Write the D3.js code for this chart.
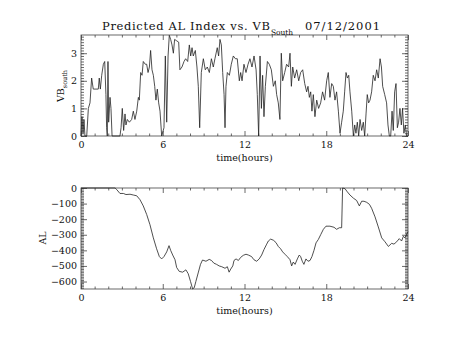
<!DOCTYPE html>
<html><head><meta charset="utf-8">
<script src="https://cdn.jsdelivr.net/npm/d3@7"></script>
<style>body{margin:0;background:#fff}svg{display:block}</style></head>
<body><svg id="c" width="454" height="341"></svg>
<script>
// ---- data (hours, value) ----
const vbSouth = [[0,0],[0.07,0.7],[0.15,0.1],[0.22,0.6],[0.29,0],[0.42,0],[0.54,1.0],[0.66,1.2],[0.78,2.1],[0.9,1.7],[1.1,1.7],[1.27,1.7],[1.34,2.1],[1.42,1.7],[1.52,2.2],[1.64,2.6],[1.74,2.7],[1.83,1.5],[1.88,0.3],[1.93,0],[1.98,2.7],[2.03,0.5],[2.13,1.4],[2.2,1.0],[2.28,0],[2.86,0],[2.94,0.3],[3.03,1.0],[3.13,0.2],[3.23,0.8],[3.3,0.4],[3.4,0.6],[3.55,0.5],[3.72,0.6],[3.84,0.9],[3.96,0.6],[4.09,0.9],[4.21,1.4],[4.28,1.3],[4.38,2.3],[4.48,2.2],[4.57,2.7],[4.72,2.6],[4.82,2.6],[4.92,2.3],[5.02,2.5],[5.11,3.1],[5.21,2.4],[5.31,2.2],[5.41,1.8],[5.5,1.3],[5.6,1.7],[5.7,1.2],[5.8,0.9],[5.92,0],[6.09,0.3],[6.19,2.9],[6.29,0.5],[6.39,2.9],[6.48,3.65],[6.58,3.5],[6.68,3.3],[6.78,3.0],[6.87,3.5],[7.02,3.45],[7.17,3.4],[7.26,2.4],[7.41,2.5],[7.56,2.7],[7.68,2.8],[7.83,2.7],[7.95,3.3],[8.05,2.9],[8.15,3.2],[8.24,2.9],[8.39,3.1],[8.51,2.5],[8.61,1.8],[8.71,0.3],[8.83,2.3],[8.98,2.8],[9.12,2.4],[9.27,2.5],[9.42,2.3],[9.57,2.8],[9.71,2.5],[9.83,2.8],[10.0,3.2],[10.1,2.9],[10.2,3.5],[10.3,3.3],[10.4,2.3],[10.5,1.5],[10.57,0.3],[10.64,1.8],[10.74,2.3],[10.89,2.2],[11.03,2.6],[11.18,2.9],[11.33,2.8],[11.47,2.8],[11.62,2.0],[11.72,2.3],[11.82,2.0],[11.96,2.6],[12.11,2.3],[12.26,2.6],[12.4,2.8],[12.55,2.5],[12.7,2.9],[12.85,2.4],[12.94,1.5],[13.04,0],[13.14,2.9],[13.24,1.0],[13.33,2.2],[13.43,0.7],[13.53,1.8],[13.68,2.7],[13.82,2.6],[13.97,2.4],[14.12,1.8],[14.26,2.0],[14.36,1.5],[14.48,1.2],[14.6,0.6],[14.7,3.0],[14.8,2.0],[14.95,2.3],[15.09,2.6],[15.24,2.5],[15.34,3.0],[15.44,1.8],[15.54,2.5],[15.68,2.1],[15.83,2.4],[15.98,2.0],[16.12,2.3],[16.27,2.4],[16.42,1.9],[16.56,1.6],[16.66,1.8],[16.76,1.4],[16.86,1.6],[16.95,0.9],[17.05,1.5],[17.17,0.7],[17.3,1.3],[17.44,1.0],[17.59,1.2],[17.73,1.6],[17.88,1.3],[18.03,2.0],[18.15,2.3],[18.27,1.4],[18.4,1.9],[18.52,1.8],[18.64,1.3],[18.76,1.6],[18.89,0.9],[19.01,0.1],[19.13,0.5],[19.25,0.9],[19.35,1.6],[19.45,2.3],[19.55,2.1],[19.65,2.2],[19.74,1.6],[19.87,0.9],[19.99,0],[20.09,0.4],[20.18,0.1],[20.28,0.5],[20.38,0],[20.48,0.6],[20.6,0.2],[20.72,0.5],[20.82,0],[20.92,0.8],[21.01,1.5],[21.11,1.2],[21.21,1.3],[21.33,1.6],[21.45,2.2],[21.58,2.0],[21.7,2.4],[21.82,2.1],[21.95,2.8],[22.05,2.5],[22.14,1.8],[22.29,1.5],[22.43,1.2],[22.53,0.4],[22.63,0],[22.73,0],[22.83,0.9],[22.92,0.2],[23.02,1.6],[23.12,1.9],[23.22,0.3],[23.31,0.5],[23.41,1.0],[23.51,0.4],[23.6,1.0],[23.7,0.1],[23.8,0.4],[23.9,0],[24.0,0]];

const alIndex = [[0,0],[2.5,0],[2.62,-10],[2.86,-35],[3.11,-35],[3.3,-42],[3.6,-40],[3.84,-45],[4.09,-50],[4.33,-75],[4.57,-115],[4.82,-170],[5.06,-235],[5.31,-320],[5.55,-390],[5.75,-440],[5.92,-455],[6.09,-440],[6.29,-410],[6.46,-370],[6.58,-400],[6.73,-430],[6.9,-460],[7.02,-510],[7.21,-535],[7.46,-540],[7.7,-525],[7.87,-550],[8.04,-600],[8.19,-647],[8.31,-640],[8.43,-600],[8.6,-545],[8.77,-490],[8.92,-462],[9.17,-470],[9.41,-458],[9.58,-465],[9.75,-482],[9.95,-490],[10.14,-500],[10.33,-505],[10.57,-515],[10.74,-505],[10.87,-540],[10.99,-520],[11.14,-500],[11.23,-465],[11.38,-455],[11.55,-465],[11.72,-445],[11.91,-432],[12.11,-425],[12.28,-430],[12.52,-440],[12.69,-460],[12.89,-470],[13.08,-455],[13.26,-430],[13.43,-395],[13.63,-360],[13.75,-340],[13.92,-328],[14.12,-335],[14.31,-350],[14.48,-375],[14.65,-390],[14.8,-410],[14.97,-425],[15.14,-440],[15.34,-460],[15.46,-500],[15.58,-475],[15.71,-490],[15.88,-455],[16.02,-430],[16.12,-440],[16.24,-470],[16.36,-490],[16.51,-455],[16.66,-470],[16.81,-465],[16.95,-440],[17.1,-400],[17.25,-352],[17.42,-330],[17.6,-298],[17.79,-265],[17.98,-245],[18.27,-245],[18.57,-252],[18.76,-265],[18.96,-255],[19.13,-255],[19.2,0],[19.38,-5],[19.55,-25],[19.74,-45],[19.99,-65],[20.23,-80],[20.43,-115],[20.6,-85],[20.77,-85],[20.97,-92],[21.17,-105],[21.33,-130],[21.58,-185],[21.82,-250],[22.07,-320],[22.31,-345],[22.56,-375],[22.8,-355],[22.97,-360],[23.17,-345],[23.36,-325],[23.53,-340],[23.66,-310],[23.78,-320],[24.0,-280]];

const hourTicks = [0, 6, 12, 18, 24];
const vbTicks = [0, 1, 2, 3];
const alTicks = [0, -100, -200, -300, -400, -500, -600];
const vbDomain = [0, 3.66];
const alDomain = [-648, 0];
const titleMain = "Predicted AL Index vs. VB";
const titleSub = "South";
const titleDate = "07/12/2001";
const xLabel = "time(hours)";

// ---- layout ----
const FONT = "DejaVu Serif";
const svg = d3.select("#c");
svg.append("rect").attr("width",454).attr("height",341).attr("fill","#fff");
const L = 81, R = 408;
const x = d3.scaleLinear().domain([0,24]).range([L,R]);
const axisColor = "#444";

function panel(top, bottom, yDomain, yTicks, yMinorStep, data, yFmt) {
  const y = d3.scaleLinear().domain(yDomain).range([bottom, top]);
  const g = svg.append("g");
  const xMinor = d3.range(0, 25, 1).filter(v => v % 6 !== 0);
  const yMinor = d3.range(Math.ceil(yDomain[0]/yMinorStep), Math.floor(yDomain[1]/yMinorStep)+1)
      .map(k => +(k*yMinorStep).toFixed(6));
  function styleAx(sel){
    sel.select(".domain").remove();
    sel.selectAll("line").attr("stroke", axisColor).attr("stroke-width", 0.8);
    sel.selectAll("text").attr("font-family", FONT).attr("font-size", 9.5).attr("fill","#111");
  }
  g.append("g").attr("transform",`translate(0,${bottom})`)
    .call(d3.axisBottom(x).tickValues(hourTicks).tickSizeInner(-5).tickSizeOuter(0).tickPadding(5).tickFormat(d3.format("d"))).call(styleAx);
  g.append("g").attr("transform",`translate(0,${bottom})`)
    .call(d3.axisBottom(x).tickValues(xMinor).tickSizeInner(-2.5).tickSizeOuter(0).tickFormat("")).call(styleAx);
  g.append("g").attr("transform",`translate(0,${top})`)
    .call(d3.axisTop(x).tickValues(hourTicks).tickSizeInner(-5).tickSizeOuter(0).tickFormat("")).call(styleAx);
  g.append("g").attr("transform",`translate(0,${top})`)
    .call(d3.axisTop(x).tickValues(xMinor).tickSizeInner(-2.5).tickSizeOuter(0).tickFormat("")).call(styleAx);
  g.append("g").attr("transform",`translate(${L},0)`)
    .call(d3.axisLeft(y).tickValues(yTicks).tickSizeInner(-6).tickSizeOuter(0).tickPadding(4).tickFormat(yFmt)).call(styleAx);
  g.append("g").attr("transform",`translate(${L},0)`)
    .call(d3.axisLeft(y).tickValues(yMinor).tickSizeInner(-3).tickSizeOuter(0).tickFormat("")).call(styleAx);
  g.append("g").attr("transform",`translate(${R},0)`)
    .call(d3.axisRight(y).tickValues(yTicks).tickSizeInner(-6).tickSizeOuter(0).tickFormat("")).call(styleAx);
  g.append("g").attr("transform",`translate(${R},0)`)
    .call(d3.axisRight(y).tickValues(yMinor).tickSizeInner(-3).tickSizeOuter(0).tickFormat("")).call(styleAx);
  g.append("rect").attr("x",L).attr("y",top).attr("width",R-L).attr("height",bottom-top)
    .attr("fill","none").attr("stroke",axisColor).attr("stroke-width",0.8);
  g.append("path").datum(data)
    .attr("d", d3.line().x(d=>x(d[0])).y(d=>y(d[1])))
    .attr("fill","none").attr("stroke","#222").attr("stroke-width",0.8).attr("stroke-linejoin","round");
  g.append("text").attr("x",(L+R)/2).attr("y",bottom+25).attr("text-anchor","middle")
    .attr("font-family",FONT).attr("font-size",9.5).attr("fill","#111").text(xLabel);
  return y;
}

const fmtMinus = d => d3.format("d")(d).replace("-", "\u2212");
panel(35, 136, vbDomain, vbTicks, 0.1, vbSouth, d3.format("d"));
panel(188, 289, alDomain, alTicks, 10, alIndex, fmtMinus);

// y labels
const yl1 = svg.append("text").attr("transform","translate(64,86) rotate(-90)")
  .attr("text-anchor","middle").attr("font-family",FONT).attr("font-size",9.5).attr("fill","#111");
yl1.append("tspan").text("VB");
yl1.append("tspan").attr("dy",3).attr("font-size",6.5).text("south");
svg.append("text").attr("transform","translate(46,238) rotate(-90)")
  .attr("text-anchor","middle").attr("font-family",FONT).attr("font-size",9.5).attr("fill","#111").text("AL");

// title
svg.append("text").attr("x",102).attr("y",29.5).attr("font-family",FONT)
  .attr("font-size",11.5).attr("fill","#111")
  .attr("textLength",168).attr("lengthAdjust","spacing").text(titleMain);
svg.append("text").attr("x",271).attr("y",34.5).attr("font-family",FONT)
  .attr("font-size",7.5).attr("fill","#111")
  .attr("textLength",22).attr("lengthAdjust","spacing").text(titleSub);
svg.append("text").attr("x",305).attr("y",29.5).attr("font-family",FONT)
  .attr("font-size",11.5).attr("fill","#111")
  .attr("textLength",75).attr("lengthAdjust","spacing").text(titleDate);
</script></body></html>
